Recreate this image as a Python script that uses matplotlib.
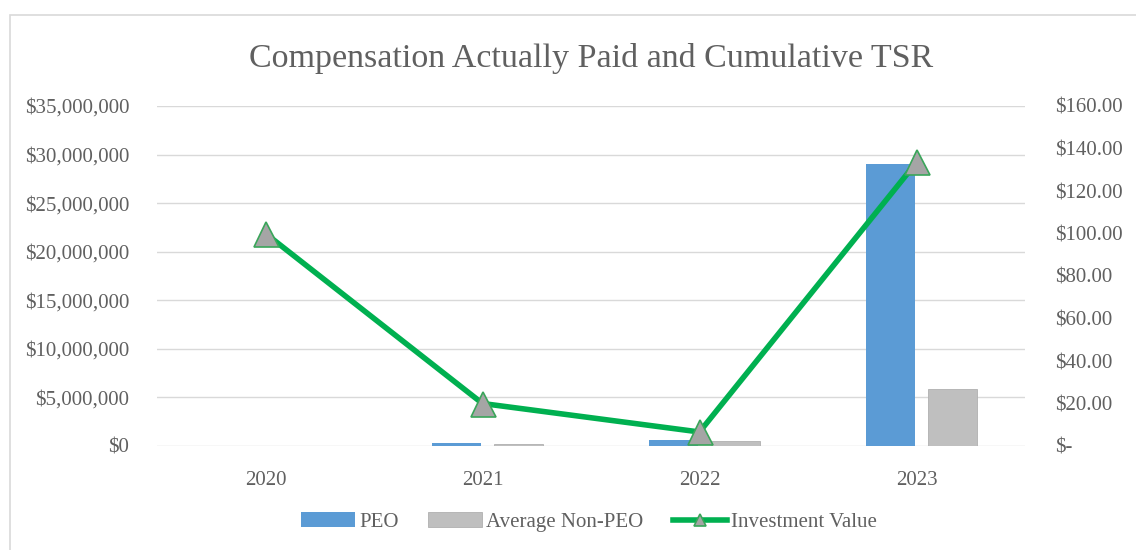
import numpy as np
import matplotlib

matplotlib.use("Agg")
import matplotlib.pyplot as plt
from matplotlib.patches import Rectangle
from matplotlib.ticker import FuncFormatter

years = ["2020", "2021", "2022", "2023"]
peo_cap = [0, 300_000, 600_000, 29_000_000]
non_peo_cap = [0, 250_000, 500_000, 5_900_000]
investment_value = [100.0, 20.0, 6.6, 133.5]

TEXT = "#606060"
plt.rcParams["font.family"] = ["Liberation Serif", "DejaVu Serif"]

fig = plt.figure(figsize=(11.36, 5.5), dpi=100)
fig.patches.append(
    Rectangle((10 / 1136, -0.1), 1.2, 1 - 15 / 550 + 0.1, transform=fig.transFigure,
              fill=False, edgecolor="#d9d9d9", linewidth=1.2)
)

ax = fig.add_axes([157 / 1136, 1 - 446 / 550, 868 / 1136, 340 / 550])
x = np.arange(len(years))
width = 0.225
ax.bar(x - 0.12, peo_cap, width, color="#5b9bd5", label="PEO", zorder=2)
ax.bar(x + 0.165, non_peo_cap, width, color="#bfbfbf", edgecolor="#b0b0b0",
       linewidth=0.6, label="Average Non-PEO", zorder=2)

ax.set_xlim(-0.5, len(years) - 0.5)
ax.set_ylim(0, 35_000_000)
ax.set_yticks(np.arange(0, 35_000_001, 5_000_000))
ax.yaxis.set_major_formatter(FuncFormatter(lambda v, p: f"${v:,.0f}"))
ax.set_xticks(x)
ax.set_xticklabels(years)
ax.grid(axis="y", color="#d9d9d9", linewidth=1, zorder=0)
for side in ["top", "right", "left", "bottom"]:
    ax.spines[side].set_visible(False)
ax.tick_params(length=0, labelsize=15, colors=TEXT)
ax.tick_params(axis="y", pad=20)
ax.tick_params(axis="x", pad=18)

ax2 = ax.twinx()
ax2.plot(x, investment_value, color="#00b050", linewidth=4, marker="^",
         markersize=18, markerfacecolor="#a5a5a5", markeredgecolor="#3aa55a",
         markeredgewidth=1.2, label="Investment Value", zorder=3)
ax2.set_ylim(0, 160)
ax2.set_yticks(np.arange(0, 161, 20))
ax2.yaxis.set_major_formatter(
    FuncFormatter(lambda v, p: "$-" if v == 0 else f"${v:,.2f}")
)
for side in ["top", "right", "left", "bottom"]:
    ax2.spines[side].set_visible(False)
ax2.tick_params(length=0, labelsize=15, colors=TEXT, pad=22)

fig.text(591 / 1136, 1 - 58 / 550, "Compensation Actually Paid and Cumulative TSR",
         ha="center", va="center", fontsize=24.5, color=TEXT)

h1, l1 = ax.get_legend_handles_labels()
h2, l2 = ax2.get_legend_handles_labels()
fig.legend(h1 + h2, l1 + l2, loc="center", bbox_to_anchor=(589 / 1136, 1 - 522 / 550),
           ncol=3, frameon=False, fontsize=15, labelcolor=TEXT, handlelength=2.6,
           handletextpad=0.2, columnspacing=1.4, markerscale=0.5)

fig.savefig("out.png", dpi=100)
